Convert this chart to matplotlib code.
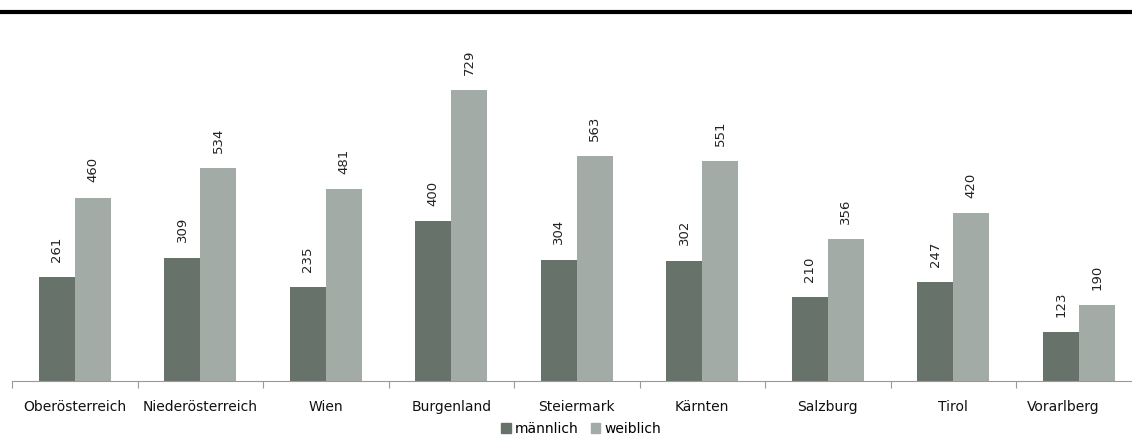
import numpy as np
import matplotlib.pyplot as plt
from matplotlib.lines import Line2D
from matplotlib.patches import Patch
from matplotlib.transforms import ScaledTranslation

regionen = ['Oberösterreich', 'Niederösterreich', 'Wien', 'Burgenland', 'Steiermark',
            'Kärnten', 'Salzburg', 'Tirol', 'Vorarlberg']
maennlich = [261, 309, 235, 400, 304, 302, 210, 247, 123]
weiblich = [460, 534, 481, 729, 563, 551, 356, 420, 190]

c_m = '#67726a'
c_w = '#a2aba5'

W, H = 1132, 438
fig = plt.figure(figsize=(W / 100, H / 100), dpi=100)
# axes from x=12 px to 1141.5 px (right edge runs past the picture), baseline at y=381
left, right, bottom, top = 12, 1141.5, 381, 20
ax = fig.add_axes([left / W, (H - bottom) / H, (right - left) / W, (bottom - top) / H])

x = np.arange(len(regionen))
bw = 0.287
b1 = ax.bar(x - bw / 2, maennlich, bw, color=c_m)
b2 = ax.bar(x + bw / 2, weiblich, bw, color=c_w)

for bars, vals in ((b1, maennlich), (b2, weiblich)):
    for b, v in zip(bars, vals):
        ax.annotate(str(v), (b.get_x() + b.get_width() / 2, v), xytext=(0, 11),
                    textcoords='offset points', rotation=90, ha='center', va='bottom',
                    fontsize=9.5, color='#222222')

ax.set_xlim(-0.5, len(regionen) - 0.5)
ax.set_ylim(0, 905)
ax.set_yticks([])
ax.set_xticks(x)
ax.set_xticklabels(regionen, fontsize=10, color='#111111')
ax.set_xticks(np.arange(len(regionen) + 1) - 0.5, minor=True)
ax.tick_params(axis='x', which='major', length=0, pad=14)
ax.tick_params(axis='x', which='minor', length=5, color='#999999', width=0.8)
# last label is pushed left so it stays inside the picture
last = ax.xaxis.get_major_ticks()[-1].label1
last.set_transform(last.get_transform() + ScaledTranslation(-0.16, 0, fig.dpi_scale_trans))
for s in ('top', 'right', 'left'):
    ax.spines[s].set_visible(False)
ax.spines['bottom'].set_color('#999999')
ax.spines['bottom'].set_linewidth(0.8)

fig.add_artist(Line2D([2 / W, 1.0], [(H - 12) / H] * 2, color='black', lw=3,
                      transform=fig.transFigure))

handles = [Patch(color=c_m), Patch(color=c_w)]
fig.legend(handles, ['männlich', 'weiblich'], loc='center', bbox_to_anchor=(581 / W, (H - 429) / H),
           ncol=2, frameon=False, fontsize=10, handlelength=0.7, handleheight=0.7,
           handletextpad=0.25, columnspacing=0.9, borderpad=0)

fig.savefig('out.png', dpi=100)
